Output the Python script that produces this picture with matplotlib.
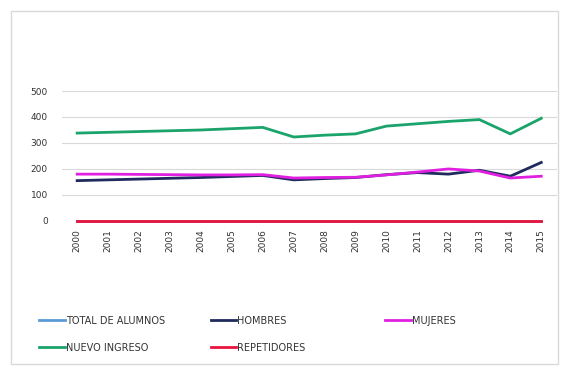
import matplotlib.pyplot as plt
from matplotlib.patches import Rectangle

years = [str(y) for y in range(2000, 2016)]

total_alumnos = [0] * 16
hombres = [155, 158, 161, 164, 167, 171, 175, 158, 163, 167, 178, 186, 180, 195, 172, 225]
mujeres = [180, 180, 179, 178, 177, 177, 178, 165, 167, 168, 177, 188, 200, 192, 165, 172]
nuevo_ingreso = [338, 341, 344, 347, 350, 355, 360, 323, 330, 335, 365, 374, 383, 390, 335, 395]
repetidores = [0] * 16

series = [
    ("TOTAL DE ALUMNOS", total_alumnos, "#5b9bd5"),
    ("HOMBRES", hombres, "#1f2a5e"),
    ("MUJERES", mujeres, "#e020e0"),
    ("NUEVO INGRESO", nuevo_ingreso, "#1aa36a"),
    ("REPETIDORES", repetidores, "#e8143c"),
]

fig = plt.figure(figsize=(5.71, 3.70), dpi=100)
ax = fig.add_axes([0.108, 0.403, 0.867, 0.351])

x = range(len(years))
lines = []
for name, vals, color in series:
    ln, = ax.plot(x, vals, color=color, lw=2.0, label=name, clip_on=False)
    lines.append(ln)

ax.set_xlim(-0.5, len(years) - 0.5)
ax.set_ylim(0, 500)
ax.set_yticks(range(0, 501, 100))
ax.set_xticks(list(x))
ax.set_xticklabels(years, rotation=90, fontsize=6.5, color="#333333")
ax.tick_params(axis="y", labelsize=6.5, colors="#333333", length=0, pad=10)
ax.tick_params(axis="x", length=0, pad=6)
ax.grid(axis="y", color="#d9d9d9", lw=0.8)
ax.set_axisbelow(True)
for s in ax.spines.values():
    s.set_visible(False)

# legend as three columns of fixed width
columns = [([0, 3], 0.062), ([1, 4], 0.362), ([2], 0.668)]
for idx, xpos in columns:
    fig.legend([lines[i] for i in idx], [series[i][0] for i in idx],
               loc="upper left", bbox_to_anchor=(xpos, 0.157),
               frameon=False, fontsize=7, handlelength=2.6,
               handletextpad=0.1, labelspacing=1.75,
               labelcolor="#333333", borderaxespad=0)

fig.patches.append(Rectangle((0.02, 0.015), 0.958, 0.955, transform=fig.transFigure,
                             fill=False, edgecolor="#d9d9d9", lw=1.0))

fig.savefig("out.png", dpi=100)
